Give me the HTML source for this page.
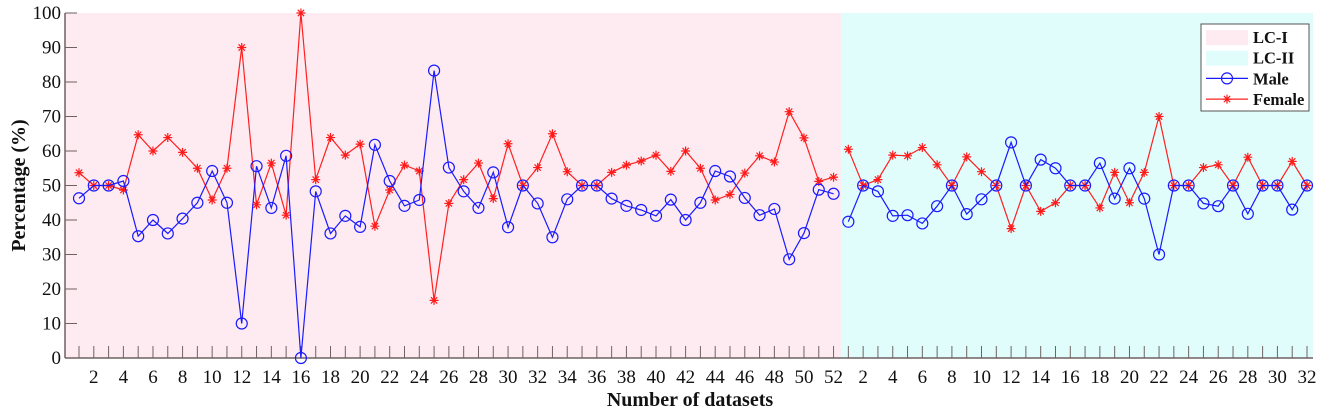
<!DOCTYPE html>
<html><head><meta charset="utf-8"><style>
html,body{margin:0;padding:0;background:#fff;}
svg{display:block;font-family:"Liberation Serif",serif;}
</style></head><body>
<svg id="chart" width="1325" height="412" viewBox="0 0 1325 412">
<g id="bg"></g><g id="axes"></g><g id="series"></g><g id="legend"></g>
</svg>
<script>
const maleLC1 = [46.3,50,50,51.3,35.3,40,36.1,40.4,45,54.2,45,10,55.6,43.5,58.6,0,48.3,36.1,41.2,38,61.8,51.3,44.1,45.8,83.3,55.2,48.3,43.5,53.8,37.9,50,44.8,35,46,50,50,46.2,44.1,42.9,41.2,45.9,40,45,54.2,52.6,46.4,41.4,43.2,28.6,36.2,48.8,47.6];
const femaleLC1 = [53.7,50,50,48.7,64.7,60,63.9,59.6,55,45.8,55,90,44.4,56.5,41.4,100,51.7,63.9,58.8,62,38.2,48.7,55.9,54.2,16.7,44.8,51.7,56.5,46.2,62.1,50,55.2,65,54,50,50,53.8,55.9,57.1,58.8,54.1,60,55,45.8,47.4,53.6,58.6,56.8,71.4,63.8,51.2,52.4];
const maleLC2 = [39.5,50,48.3,41.2,41.4,39,44,50,41.7,46,50,62.5,50,57.5,55,50,50,56.5,46.2,55,46.2,30,50,50,44.8,44,50,41.8,50,50,43,50];
const femaleLC2 = [60.5,50,51.7,58.8,58.6,61,56,50,58.3,54,50,37.5,50,42.5,45,50,50,43.5,53.8,45,53.8,70,50,50,55.2,56,50,58.2,50,50,57,50];
const yTicks = [0,10,20,30,40,50,60,70,80,90,100];

const NS="http://www.w3.org/2000/svg";
const L=65,R=1313,T=13,B=358;
const x0=79, dx=(1307-79)/83;
const xs=i=>x0+i*dx;
const ys=v=>B-(v/100)*(B-T);
function mk(tag,attrs,parent){const e=document.createElementNS(NS,tag);for(const k in attrs)e.setAttribute(k,attrs[k]);parent.appendChild(e);return e;}
const bg=document.getElementById('bg'),ax=document.getElementById('axes'),se=document.getElementById('series'),lg=document.getElementById('legend');
const n1=maleLC1.length,n2=maleLC2.length;
const split=(xs(n1-1)+xs(n1))/2;
let r1=mk('rect',{x:L,y:T,width:split-L,height:B-T,fill:'#fdebf1'},bg);


let r2=mk('rect',{x:split,y:T,width:R-split,height:B-T,fill:'#e0fdfc'},bg);


let yl=mk('line',{x1:L,y1:T,x2:L,y2:B,stroke:'#6e6262','stroke-width':1.5},ax);


let xl=mk('line',{x1:L,y1:B,x2:R,y2:B,stroke:'#6e6262','stroke-width':1.5},ax);


yTicks.forEach(v=>{
  mk('line',{x1:L,y1:ys(v),x2:L+12,y2:ys(v),stroke:'#6e6262','stroke-width':1},ax);
  const t=mk('text',{x:L-4,y:ys(v)+6,'text-anchor':'end','font-size':19,fill:'#111'},ax);
  t.textContent=v;
  
  
});
function xTicks(offset,n){
  for(let k=1;k<=n;k++){
    const gx=xs(offset+k-1);
    mk('line',{x1:gx,y1:B,x2:gx,y2:B-12,stroke:'#6e6262','stroke-width':1},ax);
    if(k%2===0){
      const t=mk('text',{x:gx,y:B+25,'text-anchor':'middle','font-size':19,fill:'#111'},ax);
      t.textContent=k;
      
      
    }
  }
}
xTicks(0,n1);xTicks(n1,n2);
let yt=mk('text',{x:0,y:0,transform:`translate(25,${(T+B)/2}) rotate(-90)`,'text-anchor':'middle','font-size':20,'font-weight':'bold',fill:'#111'},ax);
yt.textContent='Percentage (%)';


let xt=mk('text',{x:690,y:406,'text-anchor':'middle','font-size':20,'font-weight':'bold',fill:'#111'},ax);
xt.textContent='Number of datasets';


function star(g,cx,cy,s){
  mk('path',{d:`M${cx-s} ${cy}H${cx+s}M${cx} ${cy-s}V${cy+s}M${cx-s*.7} ${cy-s*.7}L${cx+s*.7} ${cy+s*.7}M${cx-s*.7} ${cy+s*.7}L${cx+s*.7} ${cy-s*.7}`,stroke:'#ff1a1a','stroke-width':1.2,fill:'none'},g);
}
function drawLine(vals,offset,color,name,marker){
  const g=mk('g',{},se);
  
  
  const pts=vals.map((v,i)=>xs(offset+i).toFixed(1)+','+ys(v).toFixed(1)).join(' ');
  mk('polyline',{points:pts,fill:'none',stroke:color,'stroke-width':1.2},g);
  vals.forEach((v,i)=>{
    if(marker==='o'){const c=mk('circle',{cx:xs(offset+i),cy:ys(v),r:5.5,fill:'none',stroke:color,'stroke-width':1.2},g);
      
      }
    else star(g,xs(offset+i),ys(v),4.5);
  });
}
drawLine(femaleLC1,0,'#ff2020','female-line-lc-i','*');
drawLine(maleLC1,0,'#1a1aff','male-line-lc-i','o');
drawLine(femaleLC2,n1,'#ff2020','female-line-lc-ii','*');
drawLine(maleLC2,n1,'#1a1aff','male-line-lc-ii','o');
const LX=1201,LY=24;
let box=mk('rect',{x:LX,y:LY,width:108,height:87,fill:'#fff',stroke:'#555','stroke-width':1},lg);


const items=[['LC-I','p'],['LC-II','c'],['Male','m'],['Female','f']];
items.forEach((it,k)=>{
  const cy=LY+13+k*20.7;
  if(it[1]==='p')mk('rect',{x:LX+5,y:cy-7,width:42,height:15,fill:'#fdebf1'},lg);
  if(it[1]==='c')mk('rect',{x:LX+5,y:cy-7,width:42,height:15,fill:'#e0fdfc'},lg);
  if(it[1]==='m'){mk('line',{x1:LX+5,y1:cy,x2:LX+47,y2:cy,stroke:'#1a1aff','stroke-width':1.2},lg);mk('circle',{cx:LX+26,cy:cy,r:5.5,fill:'none',stroke:'#1a1aff','stroke-width':1.2},lg);}
  if(it[1]==='f'){mk('line',{x1:LX+5,y1:cy,x2:LX+47,y2:cy,stroke:'#ff2020','stroke-width':1.2},lg);star(lg,LX+26,cy,4.5);}
  const t=mk('text',{x:LX+52,y:cy+6,'font-size':16.5,'font-weight':'bold',fill:'#111'},lg);
  t.textContent=it[0];
  
  
});
</script>
</body></html>
